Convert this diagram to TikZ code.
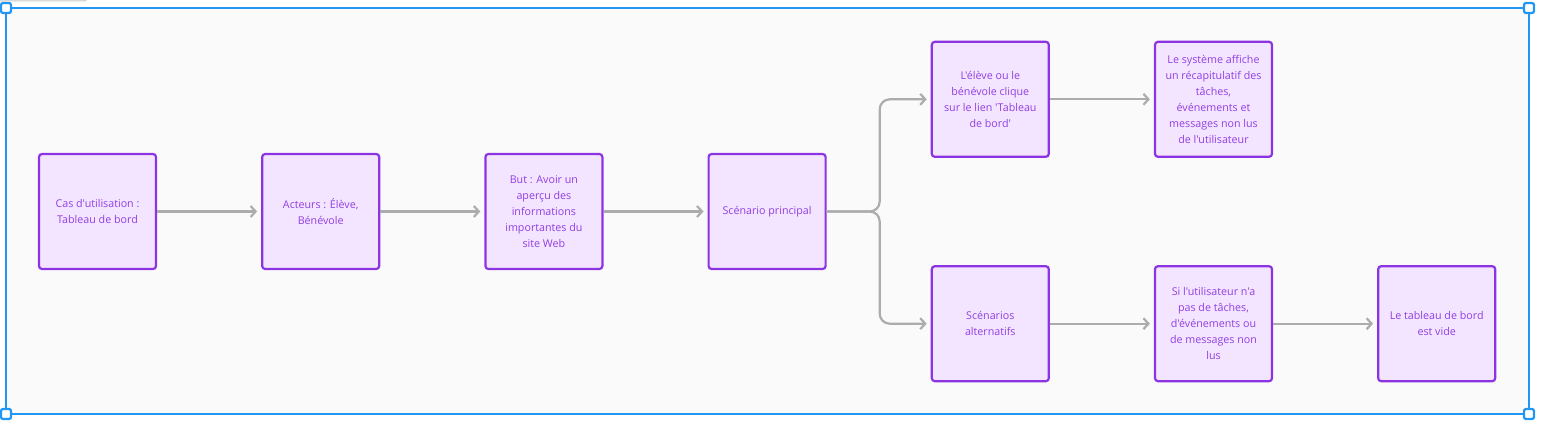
\documentclass[tikz,border=0pt]{standalone}
\usepackage{fontspec}
\setmainfont{Open Sans}[Ligatures=TeXOff]
\usepackage{tikz}
\usetikzlibrary{positioning,arrows.meta}

\definecolor{boxfill}{RGB}{243,229,255}
\definecolor{boxline}{RGB}{140,52,226}
\definecolor{boxtext}{RGB}{145,62,226}
\definecolor{flowgray}{RGB}{172,172,172}
\definecolor{selblue}{RGB}{33,150,243}
\definecolor{canvas}{RGB}{250,250,250}

\tikzset{
  stepbox/.style={draw=boxline, fill=boxfill, line width=2.2pt, rounded corners=3pt,
    minimum width=117pt, minimum height=115pt, align=center, text=boxtext,
    font=\fontsize{10.7}{16}\selectfont},
  flow/.style={draw=flowgray, line width=2.2pt, shorten >=4pt,
    -{Straight Barb[length=5pt,width=11pt,line width=2.2pt]}},
  handle/.style={draw=selblue, fill=white, line width=2.2pt, rounded corners=2pt,
    minimum size=10pt, inner sep=0pt}
}

\begin{document}
\begin{tikzpicture}[x=1pt, y=-1pt, node distance=104pt]
    \useasboundingbox (0,0) rectangle (1541,425);
    % frame
    \draw[gray!45, line width=1pt, rounded corners=2pt] (0,1) -- (86,1) -- (89,-3);
    \draw[selblue, fill=canvas, line width=2.4pt] (6,8) rectangle (1529,414);
    \node[handle] (h1) at (6,8) {};
    \node[handle] (h2) at (1529,8) {};
    \node[handle] (h3) at (6,414) {};
    \node[handle] (h4) at (1529,414) {};

    % main row
    \node[stepbox] (cas) at (97.5,211.5) {Cas d'utilisation :\\ Tableau de bord};
    \node[stepbox, right=of cas] (acteurs) {Acteurs : Élève,\\ Bénévole};
    \node[stepbox, right=of acteurs] (but) {But : Avoir un\\ aperçu des\\ informations\\ importantes du\\ site Web};
    \node[stepbox, right=of but] (principal) {Scénario principal};

    % branches
    \node[stepbox, above right=-5pt and 104pt of principal] (clique) {L'élève ou le\\ bénévole clique\\ sur le lien 'Tableau\\ de bord'};
    \node[stepbox, right=of clique] (affiche) {Le système affiche\\ un récapitulatif des\\ tâches,\\ événements et\\ messages non lus\\ de l'utilisateur};
    \node[stepbox, below right=-5pt and 104pt of principal] (alt) {Scénarios\\ alternatifs};
    \node[stepbox, right=of alt] (sivide) {Si l'utilisateur n'a\\ pas de tâches,\\ d'événements ou\\ de messages non\\ lus};
    \node[stepbox, right=of sivide] (vide) {Le tableau de bord\\ est vide};

    \coordinate[right=53pt of principal.east] (split);

    \draw[flow] (cas) -- (acteurs);
    \draw[flow] (acteurs) -- (but);
    \draw[flow] (but) -- (principal);
    \draw[flow, rounded corners=10pt] (principal.east) -- (split) |- (clique.west);
    \draw[flow, rounded corners=10pt] (principal.east) -- (split) |- (alt.west);
    \draw[flow] (clique) -- (affiche);
    \draw[flow] (alt) -- (sivide);
    \draw[flow] (sivide) -- (vide);
  \end{tikzpicture}
\end{document}
